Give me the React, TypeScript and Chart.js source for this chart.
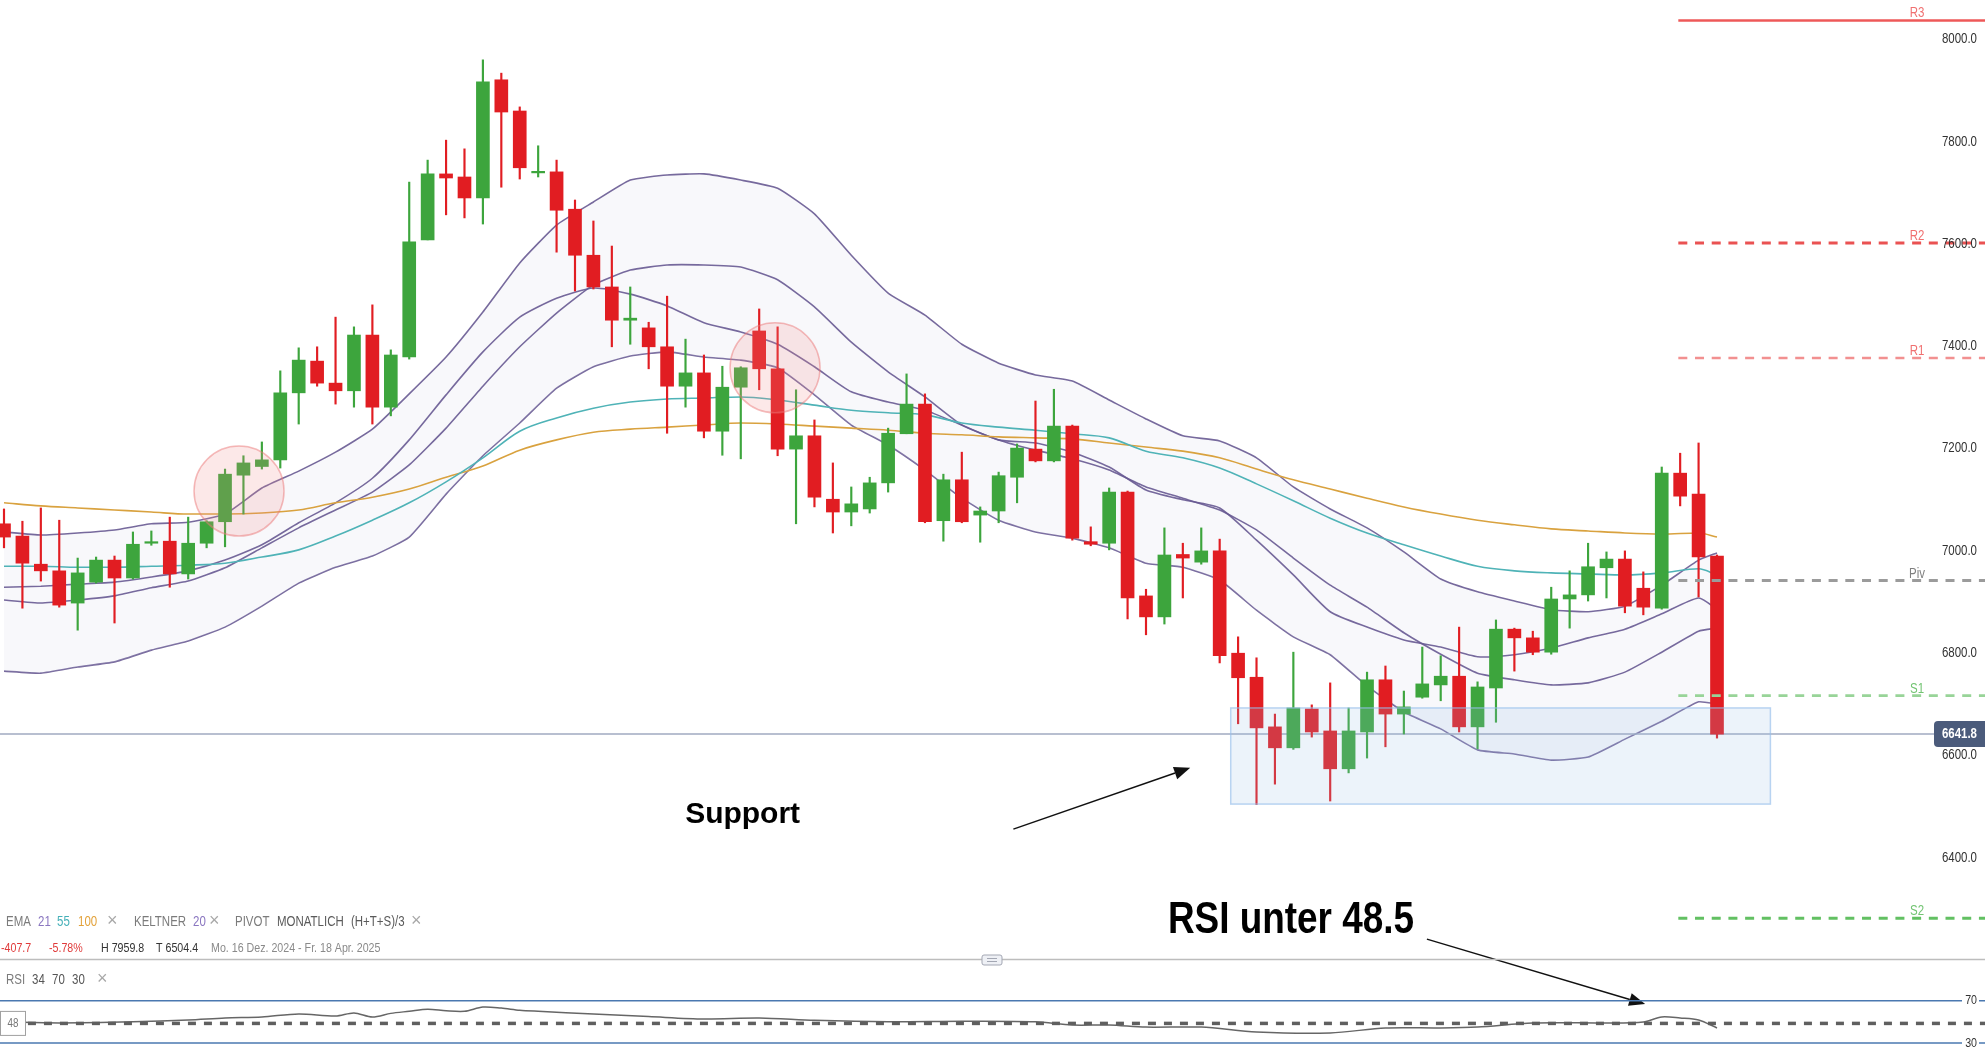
import React, { useEffect, useRef } from "react";
import { Chart, registerables } from "chart.js";

Chart.register(...registerables);

// ---------------- data ----------------
const opens = [
  7053, 7029, 6974, 6961, 6898, 6939, 6982, 6947, 7015, 7019,
  6955, 7015, 7057, 7148, 7165, 7178, 7309, 7371, 7328, 7313,
  7422, 7281, 7379, 7608, 7737, 7731, 7690, 7921, 7860, 7739,
  7741, 7668, 7578, 7516, 7451, 7436, 7399, 7322, 7348, 7234,
  7320, 7430, 7356, 7199, 7225, 7101, 7076, 7082, 7133, 7229,
  7287, 7059, 7139, 7070, 7078, 7144, 7199, 7176, 7244, 7018,
  7015, 7115, 6912, 6871, 6993, 6978, 7000, 6800, 6753, 6656,
  6615, 6691, 6648, 6574, 6646, 6748, 6681, 6714, 6738, 6755,
  6656, 6732, 6847, 6830, 6802, 6906, 6914, 6967, 6984, 6927,
  6888, 7152, 7111, 6990,
];
const highs = [
  7082, 7058, 7084, 7060, 6986, 6988, 6990, 7037, 7039, 7066,
  7066, 7059, 7160, 7186, 7213, 7352, 7397, 7399, 7457, 7438,
  7481, 7393, 7721, 7764, 7803, 7786, 7960, 7934, 7868, 7792,
  7764, 7686, 7645, 7596, 7516, 7447, 7498, 7414, 7383, 7361,
  7360, 7473, 7438, 7315, 7256, 7172, 7125, 7144, 7240, 7346,
  7307, 7150, 7193, 7086, 7154, 7209, 7293, 7316, 7246, 7047,
  7123, 7117, 6925, 7045, 7015, 7045, 7023, 6832, 6791, 6681,
  6802, 6699, 6742, 6693, 6763, 6775, 6726, 6812, 6795, 6851,
  6744, 6865, 6849, 6843, 6929, 6961, 7015, 6998, 7000, 6959,
  7164, 7191, 7211, 6992,
];
const lows = [
  7006, 6888, 6941, 6890, 6845, 6937, 6859, 6945, 7011, 6929,
  6945, 7006, 7008, 7072, 7160, 7162, 7248, 7322, 7287, 7281,
  7248, 7264, 7375, 7608, 7657, 7651, 7639, 7711, 7727, 7731,
  7584, 7508, 7512, 7399, 7404, 7356, 7230, 7281, 7221, 7187,
  7180, 7315, 7186, 7053, 7086, 7035, 7049, 7074, 7115, 7229,
  7055, 7019, 7055, 7017, 7055, 7094, 7174, 7174, 7021, 7010,
  7002, 6867, 6836, 6857, 6908, 6974, 6781, 6662, 6504, 6544,
  6612, 6636, 6511, 6566, 6595, 6617, 6642, 6712, 6707, 6646,
  6613, 6665, 6765, 6797, 6798, 6849, 6902, 6908, 6879, 6875,
  6886, 7088, 6910, 6634,
];
const closes = [
  7027, 6976, 6961, 6894, 6957, 6982, 6947, 7013, 7018, 6955,
  7015, 7057, 7150, 7172, 7178, 7309, 7373, 7328, 7313, 7422,
  7281, 7383, 7604, 7737, 7729, 7690, 7917, 7858, 7749, 7742,
  7666, 7578, 7516, 7451, 7455, 7399, 7322, 7348, 7234, 7320,
  7358, 7356, 7199, 7225, 7105, 7076, 7092, 7133, 7230, 7287,
  7057, 7139, 7057, 7078, 7147, 7201, 7176, 7244, 7025, 7013,
  7115, 6908, 6871, 6992, 6986, 7000, 6795, 6752, 6654, 6615,
  6693, 6646, 6574, 6648, 6748, 6681, 6695, 6740, 6755, 6656,
  6734, 6847, 6830, 6802, 6906, 6914, 6969, 6984, 6892, 6890,
  7152, 7107, 6988, 6641.8,
];

// indicator lines, read at these candle indices
const lineIdx = [
  0, 2, 4, 6, 8, 10, 12, 14, 16, 18, 20, 22, 24, 26, 28, 30, 32, 34, 36, 38,
  40, 42, 44, 46, 48, 50, 52, 54, 56, 58, 60, 62, 64, 66, 68, 70, 72, 74, 76, 78,
  80, 82, 84, 86, 88, 90, 92, 93,
];
const keltnerUpper = [
  7037, 7031, 7035, 7041, 7053, 7056, 7072, 7123, 7156, 7193, 7238, 7307, 7379, 7467, 7563, 7637,
  7682, 7725, 7735, 7737, 7725, 7709, 7659, 7578, 7504, 7461, 7404, 7367, 7344, 7332, 7295, 7258,
  7225, 7215, 7182, 7125, 7082, 7045, 6998, 6945, 6920, 6902, 6885, 6881, 6892, 6933, 6982, 6996,
];
const keltnerLower = [
  6765, 6761, 6773, 6783, 6806, 6824, 6851, 6892, 6937, 6968, 6990, 7027, 7111, 7186, 7250, 7318,
  7360, 7381, 7389, 7379, 7373, 7358, 7305, 7246, 7207, 7158, 7103, 7060, 7037, 7025, 7006, 6976,
  6968, 6943, 6884, 6832, 6797, 6736, 6685, 6652, 6611, 6603, 6591, 6597, 6632, 6667, 6705, 6701,
];
const keltnerMid = [
  6904, 6898, 6904, 6912, 6928, 6941, 6967, 7006, 7045, 7080, 7115, 7168, 7240, 7322, 7399, 7465,
  7520, 7549, 7559, 7559, 7555, 7530, 7477, 7408, 7350, 7301, 7246, 7217, 7197, 7180, 7158, 7125,
  7103, 7080, 7041, 6986, 6933, 6890, 6840, 6798, 6761, 6748, 6738, 6742, 6763, 6802, 6843, 6849,
];
const ema21 = [
  6929, 6931, 6935, 6939, 6949, 6961, 6982, 7012, 7055, 7094, 7142, 7217, 7305, 7389, 7457, 7494,
  7514, 7502, 7479, 7446, 7428, 7404, 7360, 7311, 7291, 7275, 7246, 7217, 7211, 7193, 7164, 7119,
  7100, 7084, 7021, 6953, 6881, 6851, 6826, 6812, 6793, 6797, 6810, 6830, 6847, 6877, 6908, 6886,
];
const ema55 = [
  6970, 6970, 6968, 6968, 6970, 6972, 6976, 6988, 7002, 7029, 7060, 7094, 7135, 7182, 7234, 7260,
  7279, 7291, 7297, 7299, 7301, 7295, 7285, 7275, 7270, 7266, 7250, 7242, 7236, 7229, 7221, 7195,
  7182, 7162, 7131, 7098, 7064, 7035, 7012, 6990, 6970, 6961, 6957, 6955, 6953, 6957, 6965, 6953,
];
const ema100 = [
  7094, 7088, 7084, 7080, 7076, 7072, 7072, 7074, 7080, 7094, 7105, 7121, 7144, 7166, 7197, 7217,
  7232, 7238, 7242, 7246, 7250, 7248, 7244, 7240, 7236, 7230, 7227, 7223, 7221, 7219, 7211, 7203,
  7195, 7182, 7160, 7139, 7121, 7103, 7086, 7072, 7060, 7051, 7043, 7039, 7035, 7033, 7035, 7027,
];

// monthly pivots
const pivotNames = ["R3", "R2", "R1", "Piv", "S1", "S2"];
const pivotValues = [8037, 7602, 7377, 6942, 6717, 6282];
const pivotStartIdx = 90.9;

const priceTicks = [6400, 6600, 6800, 7000, 7200, 7400, 7600, 7800, 8000];
const lastPrice = 6641.8;

// RSI 34
const rsiIdx = [
  0, 3, 7, 10, 12, 14, 16, 18, 19, 20, 21, 22, 23, 24, 25, 26, 27, 28, 29, 32, 35, 38, 41, 44,
  48, 52, 56, 58, 60, 62, 65, 68, 72, 75, 78, 80, 83, 87, 89, 90, 91, 92, 93,
];
const rsiVal = [
  50, 49, 50, 51.7, 53.6, 54.6, 57.4, 55.5, 58.4, 54.6, 58, 60, 62, 60.5, 60, 64, 63, 61, 60, 57.4,
  55, 52.7, 53.6, 51.4, 50, 50.5, 50, 47, 47, 45, 45, 40.4, 39.5, 44.2, 44.2, 45, 48.9, 48.9, 49.9,
  54.6, 53.6, 51.7, 44.2,
];
const rsiLevels = [70, 30];
const rsiSignal = 48.5;
const rsiSignalLabel = "48";

// annotations (candle index, price)
const highlightCircles = [
  [12.76, 7117],
  [41.86, 7358],
];
const supportZone = { from: 66.6, to: 95.9, low: 6505, high: 6693 };
const supportArrow = [[54.8, 6456], [64.4, 6576]];
const supportText = { text: "Support", i: 40.1, p: 6468 };
const rsiArrow = [[77.25, 6241], [89.1, 6114]];
const rsiText = { text: "RSI unter 48.5", i: 69.87, p: 6253 };

// ---------------- layout ----------------
const W = 1985;
const H = 1053;
const RSI_TOP = 960;
const RSI_H = 93;
const X_MIN = -0.217;
const X_MAX = 107.55;
const Y_MIN = 6018.4;
const Y_MAX = 8077;
const RSI_MIN = 20.5;
const RSI_MAX = 108.5;

const GREEN = "#3da53d";
const RED = "#e11d22";
const PURPLE = "rgba(104,90,146,0.9)";
const TEAL = "#4fb3b7";
const GOLD = "#d9a23f";

const hasNarrow = (() => {
  try {
    const c = document.createElement("canvas").getContext("2d");
    if (!c) return false;
    const probe = "KELTNER 8000.0 Support";
    c.font = "40px monospace";
    const a = c.measureText(probe).width;
    c.font = '40px "Liberation Sans Narrow", monospace';
    const b = c.measureText(probe).width;
    return Math.abs(a - b) > 0.5;
  } catch (e) {
    return false;
  }
})();

function txt(
  ctx: CanvasRenderingContext2D,
  s: string,
  x: number,
  y: number,
  size: number,
  color: string,
  opts: any = {}
) {
  const { align = "left", weight = "normal", narrow = true, baseline = "middle" } = opts;
  ctx.save();
  ctx.fillStyle = color;
  ctx.textAlign = align;
  ctx.textBaseline = baseline;
  if (narrow && hasNarrow) {
    ctx.font = `${weight} ${size}px "Liberation Sans Narrow", "Liberation Sans", Arial, sans-serif`;
    ctx.fillText(s, x, y);
  } else if (narrow) {
    ctx.font = `${weight} ${size}px "Liberation Sans", Arial, sans-serif`;
    ctx.translate(x, y);
    ctx.scale(0.82, 1);
    ctx.fillText(s, 0, 0);
  } else {
    ctx.font = `${weight} ${size}px "Liberation Sans", Arial, sans-serif`;
    ctx.fillText(s, x, y);
  }
  ctx.restore();
}

function arrow(ctx: CanvasRenderingContext2D, x1: number, y1: number, x2: number, y2: number) {
  const ang = Math.atan2(y2 - y1, x2 - x1);
  const L = 16;
  const hw = 6.5;
  const bx = x2 - L * Math.cos(ang);
  const by = y2 - L * Math.sin(ang);
  ctx.save();
  ctx.strokeStyle = "#111";
  ctx.fillStyle = "#111";
  ctx.lineWidth = 1.5;
  ctx.beginPath();
  ctx.moveTo(x1, y1);
  ctx.lineTo(bx, by);
  ctx.stroke();
  ctx.beginPath();
  ctx.moveTo(x2, y2);
  ctx.lineTo(bx + hw * Math.sin(ang), by - hw * Math.cos(ang));
  ctx.lineTo(bx - hw * Math.sin(ang), by + hw * Math.cos(ang));
  ctx.closePath();
  ctx.fill();
  ctx.restore();
}

function roundRect(ctx: CanvasRenderingContext2D, x: number, y: number, w: number, h: number, r: number) {
  ctx.beginPath();
  ctx.moveTo(x + r, y);
  ctx.lineTo(x + w - r, y);
  ctx.quadraticCurveTo(x + w, y, x + w, y + r);
  ctx.lineTo(x + w, y + h - r);
  ctx.quadraticCurveTo(x + w, y + h, x + w - r, y + h);
  ctx.lineTo(x + r, y + h);
  ctx.quadraticCurveTo(x, y + h, x, y + h - r);
  ctx.lineTo(x, y + r);
  ctx.quadraticCurveTo(x, y, x + r, y);
  ctx.closePath();
}

const pivotStyles: Record<string, { color: string; width: number; dash: number[]; label: string }> = {
  R3: { color: "#ee5858", width: 2.6, dash: [], label: "#f07070" },
  R2: { color: "#ea5252", width: 3, dash: [9, 7.7], label: "#f07070" },
  R1: { color: "#f29090", width: 2.6, dash: [9, 7.7], label: "#f07070" },
  Piv: { color: "#9b9b9b", width: 3, dash: [9, 7.7], label: "#808080" },
  S1: { color: "#98d498", width: 2.6, dash: [9, 7.7], label: "#72c472" },
  S2: { color: "#62c062", width: 3, dash: [9, 7.7], label: "#72c472" },
};

const lineData = (vals: number[]) => lineIdx.map((i, k) => ({ x: i, y: vals[k] }));

const overlayPlugin = {
  id: "priceOverlay",
  afterDatasetsDraw(chart: any) {
    const ctx: CanvasRenderingContext2D = chart.ctx;
    const X = (i: number) => chart.scales.x.getPixelForValue(i);
    const Y = (v: number) => chart.scales.y.getPixelForValue(v);
    ctx.save();

    // highlight circles
    highlightCircles.forEach(([ci, cp]) => {
      ctx.beginPath();
      ctx.arc(X(ci), Y(cp), 45, 0, Math.PI * 2);
      ctx.fillStyle = "rgba(238,140,140,0.2)";
      ctx.fill();
      ctx.strokeStyle = "rgba(235,120,120,0.5)";
      ctx.lineWidth = 1.5;
      ctx.stroke();
    });

    // support zone
    {
      const x1 = X(supportZone.from);
      const x2 = X(supportZone.to);
      const y1 = Y(supportZone.high);
      const y2 = Y(supportZone.low);
      ctx.fillStyle = "rgba(150,190,230,0.18)";
      ctx.fillRect(x1, y1, x2 - x1, y2 - y1);
      ctx.strokeStyle = "rgba(150,190,235,0.65)";
      ctx.lineWidth = 1.5;
      ctx.strokeRect(x1, y1, x2 - x1, y2 - y1);
    }

    // arrows + annotation texts
    arrow(ctx, X(supportArrow[0][0]), Y(supportArrow[0][1]), X(supportArrow[1][0]), Y(supportArrow[1][1]));
    arrow(ctx, X(rsiArrow[0][0]), Y(rsiArrow[0][1]), X(rsiArrow[1][0]), Y(rsiArrow[1][1]));
    txt(ctx, supportText.text, X(supportText.i), Y(supportText.p), 30, "#000", {
      align: "center",
      weight: "bold",
      narrow: false,
      baseline: "alphabetic",
    });
    txt(ctx, rsiText.text, X(rsiText.i), Y(rsiText.p), 45, "#000", {
      align: "center",
      weight: "bold",
      narrow: true,
      baseline: "alphabetic",
    });

    // price tick labels
    priceTicks.forEach((v) => {
      txt(ctx, v.toFixed(1), 1977, Y(v), 14, "#333", { align: "right" });
    });

    // pivot labels
    pivotNames.forEach((n, k) => {
      txt(ctx, n, 1917, Y(pivotValues[k]) - 3, 14, pivotStyles[n].label, {
        align: "center",
        baseline: "alphabetic",
      });
    });

    // last price badge
    {
      const y = Y(lastPrice);
      ctx.fillStyle = "#4b5b7b";
      roundRect(ctx, 1934, y - 13, 60, 26, 4);
      ctx.fill();
      txt(ctx, lastPrice.toFixed(1), 1977, y + 0.5, 14, "#ffffff", { align: "right", weight: "bold" });
    }

    // legend rows
    const row1: [string, number, string][] = [
      ["EMA", 6, "#7b7b7b"],
      ["21", 38, "#8a76c0"],
      ["55", 57, "#45b0b8"],
      ["100", 78, "#e3a23a"],
      ["KELTNER", 134, "#7b7b7b"],
      ["20", 193, "#8a76c0"],
      ["PIVOT", 235, "#7b7b7b"],
      ["MONATLICH", 277, "#5a5a5a"],
      ["(H+T+S)/3", 351, "#5a5a5a"],
    ];
    row1.forEach(([s, x, c]) => txt(ctx, s, x, 922, 14, c));
    [107, 209, 411].forEach((x) => txt(ctx, "×", x, 921, 18, "#a8a8a8", { narrow: false }));

    const row2: [string, number, string][] = [
      ["-407.7", 1, "#e03a3a"],
      ["-5.78%", 49, "#e03a3a"],
      ["H 7959.8", 101, "#333333"],
      ["T 6504.4", 156, "#333333"],
      ["Mo. 16 Dez. 2024 - Fr. 18 Apr. 2025", 211, "#8a8a8a"],
    ];
    row2.forEach(([s, x, c]) => txt(ctx, s, x, 948, 13, c));

    // separator + handle
    ctx.strokeStyle = "#bdbdbd";
    ctx.lineWidth = 1.5;
    ctx.beginPath();
    ctx.moveTo(0, 959.5);
    ctx.lineTo(W, 959.5);
    ctx.stroke();
    ctx.fillStyle = "#eef0f5";
    roundRect(ctx, 982, 955, 20, 10, 2);
    ctx.fill();
    ctx.strokeStyle = "#a3a7b3";
    ctx.lineWidth = 1;
    ctx.stroke();
    ctx.beginPath();
    ctx.moveTo(987, 958.5);
    ctx.lineTo(997, 958.5);
    ctx.moveTo(987, 961.5);
    ctx.lineTo(997, 961.5);
    ctx.stroke();

    const row3: [string, number, string][] = [
      ["RSI", 6, "#7b7b7b"],
      ["34", 32, "#555555"],
      ["70", 52, "#555555"],
      ["30", 72, "#555555"],
    ];
    row3.forEach(([s, x, c]) => txt(ctx, s, x, 980, 14, c));
    txt(ctx, "×", 97, 979, 18, "#a8a8a8", { narrow: false });

    ctx.restore();
  },
};

const rsiPlugin = {
  id: "rsiOverlay",
  afterDatasetsDraw(chart: any) {
    const ctx: CanvasRenderingContext2D = chart.ctx;
    const Y = (v: number) => chart.scales.y.getPixelForValue(v);
    ctx.save();
    // signal value box on the left
    const y = Y(rsiSignal);
    ctx.fillStyle = "#ffffff";
    ctx.fillRect(0.5, y - 12, 25, 24);
    ctx.strokeStyle = "#a0a0a0";
    ctx.lineWidth = 1;
    ctx.strokeRect(0.5, y - 12, 25, 24);
    txt(ctx, rsiSignalLabel, 13, y, 12, "#777", { align: "center" });
    // level labels on the right
    rsiLevels.forEach((v) => {
      const yy = Y(v);
      ctx.fillStyle = "#ffffff";
      ctx.fillRect(1962, yy - 6, 17, 12);
      txt(ctx, String(v), 1977, yy, 13, "#333", { align: "right" });
    });
    ctx.restore();
  },
};

function priceConfig(): any {
  const colors = closes.map((c, i) => (c >= opens[i] ? GREEN : RED));
  const datasets: any[] = [
    {
      type: "bar",
      data: opens.map((o, i) => ({ x: i, y: [o, closes[i]] })),
      backgroundColor: colors,
      borderWidth: 0,
      barThickness: 13,
      grouped: false,
      order: 0,
    },
    {
      type: "bar",
      data: lows.map((l, i) => ({ x: i, y: [l, highs[i]] })),
      backgroundColor: colors,
      borderWidth: 0,
      barThickness: 1.5,
      grouped: false,
      order: 1,
    },
    {
      type: "line",
      data: lineData(keltnerUpper),
      borderColor: PURPLE,
      borderWidth: 1.6,
      pointRadius: 0,
      fill: "+1",
      backgroundColor: "rgba(205,205,228,0.14)",
      tension: 0.15,
      order: 8,
    },
    {
      type: "line",
      data: lineData(keltnerLower),
      borderColor: PURPLE,
      borderWidth: 1.6,
      pointRadius: 0,
      fill: false,
      tension: 0.15,
      order: 8,
    },
    {
      type: "line",
      data: lineData(keltnerMid),
      borderColor: PURPLE,
      borderWidth: 1.6,
      pointRadius: 0,
      fill: false,
      tension: 0.15,
      order: 6,
    },
    {
      type: "line",
      data: lineData(ema21),
      borderColor: PURPLE,
      borderWidth: 1.6,
      pointRadius: 0,
      fill: false,
      tension: 0.2,
      order: 6,
    },
    {
      type: "line",
      data: lineData(ema55),
      borderColor: TEAL,
      borderWidth: 1.6,
      pointRadius: 0,
      fill: false,
      cubicInterpolationMode: "monotone",
      order: 5,
    },
    {
      type: "line",
      data: lineData(ema100),
      borderColor: GOLD,
      borderWidth: 1.6,
      pointRadius: 0,
      fill: false,
      cubicInterpolationMode: "monotone",
      order: 5,
    },
    {
      type: "line",
      data: [
        { x: X_MIN, y: lastPrice },
        { x: 104.8, y: lastPrice },
      ],
      borderColor: "#a0aac0",
      borderWidth: 1.5,
      pointRadius: 0,
      fill: false,
      order: 7,
    },
  ];
  pivotNames.forEach((n, k) => {
    const st = pivotStyles[n];
    datasets.push({
      type: "line",
      data: [
        { x: pivotStartIdx, y: pivotValues[k] },
        { x: X_MAX, y: pivotValues[k] },
      ],
      borderColor: st.color,
      borderWidth: st.width,
      borderDash: st.dash,
      pointRadius: 0,
      fill: false,
      order: -1,
    });
  });
  return {
    type: "bar",
    data: { datasets },
    options: {
      responsive: false,
      maintainAspectRatio: false,
      animation: false,
      devicePixelRatio: 1,
      events: [],
      layout: { padding: 0 },
      plugins: { legend: { display: false }, tooltip: { enabled: false } },
      scales: {
        x: { type: "linear", min: X_MIN, max: X_MAX, display: false, offset: false },
        y: { type: "linear", min: Y_MIN, max: Y_MAX, display: false },
      },
    },
    plugins: [overlayPlugin],
  };
}

function rsiConfig(): any {
  const datasets: any[] = [
    {
      data: rsiIdx.map((i, k) => ({ x: i, y: rsiVal[k] })),
      borderColor: "#666666",
      borderWidth: 1.5,
      pointRadius: 0,
      tension: 0.3,
      fill: false,
      order: 1,
    },
    {
      data: [
        { x: 1.3, y: rsiSignal },
        { x: X_MAX, y: rsiSignal },
      ],
      borderColor: "#5f5f5f",
      borderWidth: 3.5,
      borderDash: [8, 8],
      pointRadius: 0,
      fill: false,
      order: 0,
    },
  ];
  rsiLevels.forEach((v) => {
    datasets.push({
      data: [
        { x: X_MIN, y: v },
        { x: X_MAX, y: v },
      ],
      borderColor: "#4a78b0",
      borderWidth: 1.5,
      pointRadius: 0,
      fill: false,
      order: 2,
    });
  });
  return {
    type: "line",
    data: { datasets },
    options: {
      responsive: false,
      maintainAspectRatio: false,
      animation: false,
      devicePixelRatio: 1,
      events: [],
      layout: { padding: 0 },
      plugins: { legend: { display: false }, tooltip: { enabled: false } },
      scales: {
        x: { type: "linear", min: X_MIN, max: X_MAX, display: false },
        y: { type: "linear", min: RSI_MIN, max: RSI_MAX, display: false },
      },
    },
    plugins: [rsiPlugin],
  };
}

export default function App() {
  const priceRef = useRef<HTMLCanvasElement>(null);
  const rsiRef = useRef<HTMLCanvasElement>(null);

  useEffect(() => {
    const pc = new Chart(priceRef.current as HTMLCanvasElement, priceConfig());
    const rc = new Chart(rsiRef.current as HTMLCanvasElement, rsiConfig());
    return () => {
      pc.destroy();
      rc.destroy();
    };
  }, []);

  return (
    <div
      style={{
        position: "fixed",
        left: 0,
        top: 0,
        width: W,
        height: H,
        background: "#ffffff",
        overflow: "hidden",
      }}
    >
      <canvas ref={priceRef} width={W} height={H} style={{ position: "absolute", left: 0, top: 0 }} />
      <canvas
        ref={rsiRef}
        width={W}
        height={RSI_H}
        style={{ position: "absolute", left: 0, top: RSI_TOP }}
      />
    </div>
  );
}
